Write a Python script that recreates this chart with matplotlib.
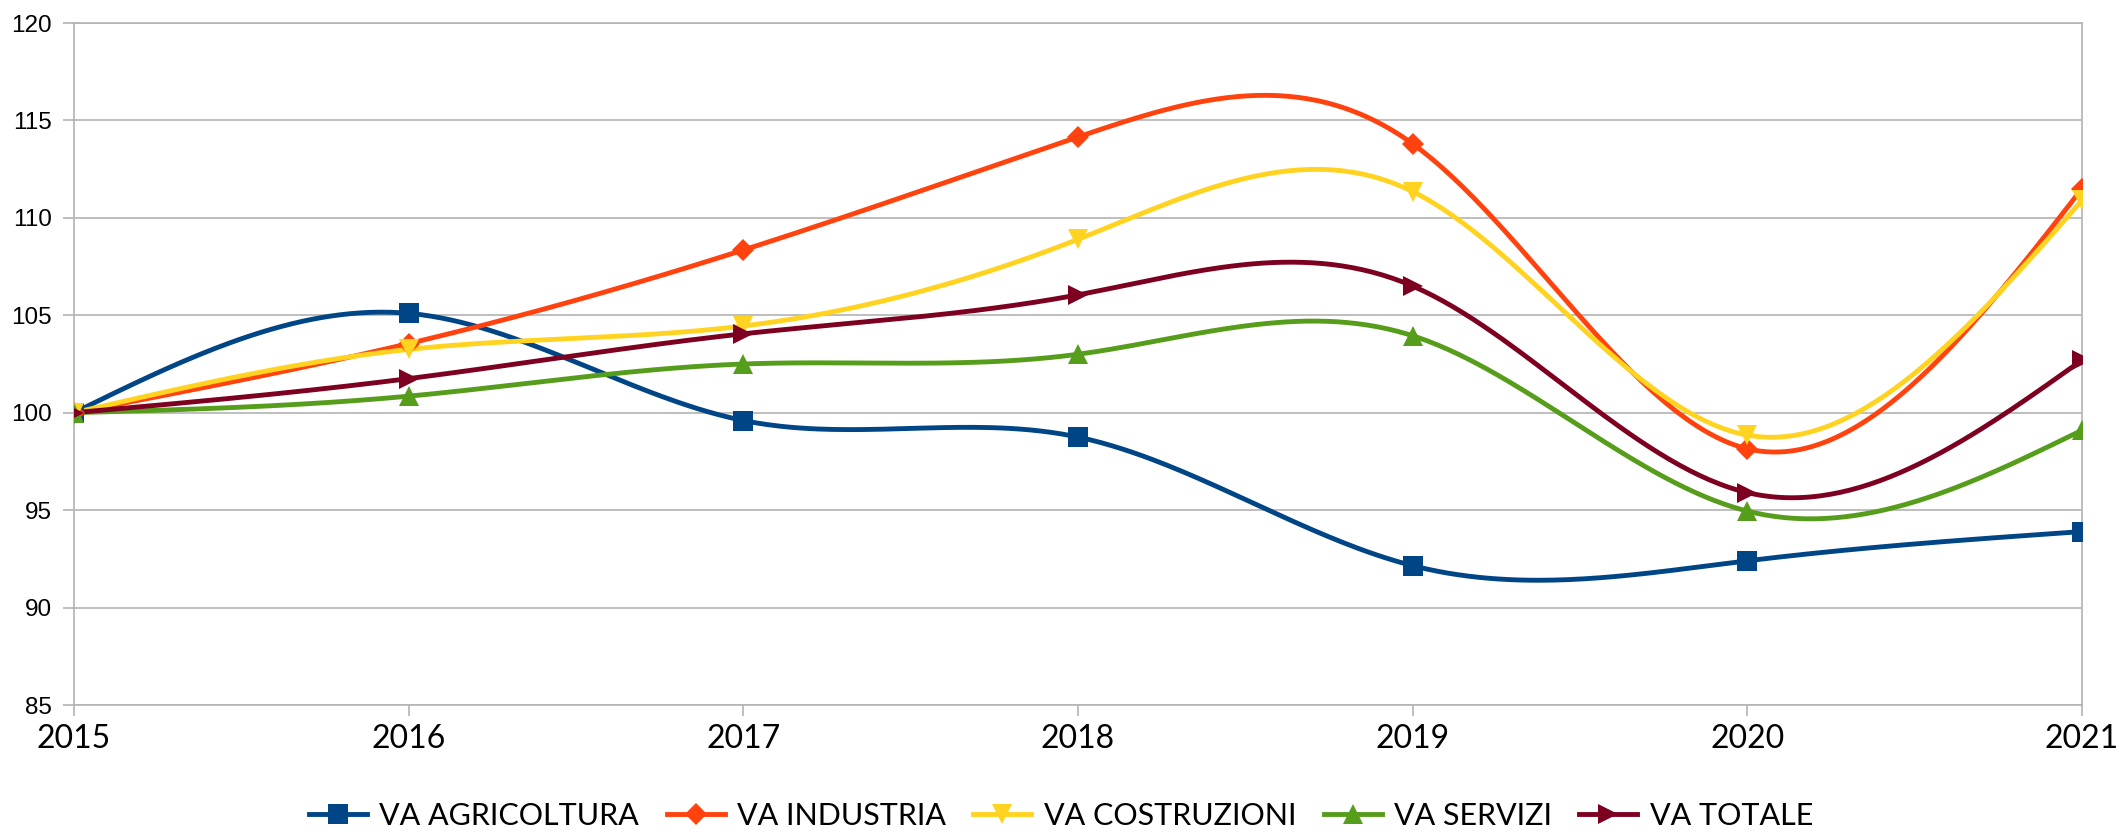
import numpy as np
import matplotlib
matplotlib.use("Agg")
import matplotlib.pyplot as plt
from matplotlib.lines import Line2D

years = [2015, 2016, 2017, 2018, 2019, 2020, 2021]
agricoltura = [100.0, 105.1, 99.6, 98.75, 92.15, 92.4, 93.9]
industria = [100.0, 103.55, 108.35, 114.15, 113.8, 98.15, 111.5]
costruzioni = [100.0, 103.25, 104.45, 108.9, 111.35, 98.85, 110.9]
servizi = [100.0, 100.85, 102.5, 103.0, 103.95, 94.95, 99.1]
totale = [100.0, 101.75, 104.05, 106.05, 106.5, 95.9, 102.7]

labels = ["VA AGRICOLTURA", "VA INDUSTRIA", "VA COSTRUZIONI", "VA SERVIZI", "VA TOTALE"]
series = [agricoltura, industria, costruzioni, servizi, totale]
colors = ["#004586", "#ff420e", "#ffd320", "#579d1c", "#7e0021"]
markers = ["s", "D", "v", "^", ">"]
msizes = [14, 11, 15, 15, 15]

yticks = [85, 90, 95, 100, 105, 110, 115, 120]


def natural_spline(x, y, n=400):
    x = np.asarray(x, float)
    y = np.asarray(y, float)
    m = len(x)
    h = np.diff(x)
    A = np.zeros((m, m))
    b = np.zeros(m)
    A[0, 0] = 1
    A[-1, -1] = 1
    for i in range(1, m - 1):
        A[i, i - 1] = h[i - 1]
        A[i, i] = 2 * (h[i - 1] + h[i])
        A[i, i + 1] = h[i]
        b[i] = 6 * ((y[i + 1] - y[i]) / h[i] - (y[i] - y[i - 1]) / h[i - 1])
    M = np.linalg.solve(A, b)
    xs = np.linspace(x[0], x[-1], n)
    idx = np.clip(np.searchsorted(x, xs) - 1, 0, m - 2)
    x0, x1 = x[idx], x[idx + 1]
    hh = x1 - x0
    t0 = x1 - xs
    t1 = xs - x0
    ys = (M[idx] * t0 ** 3 / (6 * hh) + M[idx + 1] * t1 ** 3 / (6 * hh)
          + (y[idx] / hh - M[idx] * hh / 6) * t0
          + (y[idx + 1] / hh - M[idx + 1] * hh / 6) * t1)
    return xs, ys


fig = plt.figure(figsize=(21.22, 8.34), dpi=100)
ax = fig.add_axes([74 / 2122, 1 - 705 / 834, (2082 - 74) / 2122, (705 - 23) / 834])

for vals, c, mk, ms, lab in zip(series, colors, markers, msizes, labels):
    xs, ys = natural_spline(years, vals)
    ax.plot(xs, ys, color=c, lw=3.5, solid_capstyle="round", zorder=3)
    ax.plot(years, vals, linestyle="none", marker=mk, ms=ms, color=c,
            markeredgewidth=0, zorder=4)

ax.set_xlim(2015, 2021)
ax.set_ylim(85, 120)
ax.set_yticks(yticks)
ax.set_xticks(years)
ax.grid(axis="y", color="#b3b3b3", lw=1.2)
ax.set_axisbelow(True)
for s in ax.spines.values():
    s.set_color("#b3b3b3")
    s.set_linewidth(1.2)
ax.tick_params(axis="both", color="#b3b3b3", length=8, width=1.2)
ax.tick_params(axis="y", labelsize=17.5, pad=8)
ax.tick_params(axis="x", labelsize=23, pad=6)
for t in ax.get_yticklabels():
    t.set_fontfamily("Liberation Sans")
for t in ax.get_xticklabels():
    t.set_fontfamily("Lato")

handles = [Line2D([0], [0], color=c, lw=3.5, marker=mk, ms=ms, markeredgewidth=0)
           for c, mk, ms in zip(colors, markers, msizes)]
fig.legend(handles, labels, loc="center", bbox_to_anchor=(0.5, 0.022), ncol=5,
           frameon=False, prop={"family": "Lato", "size": 22},
           handlelength=1.9, handletextpad=0.4, columnspacing=0.9)

fig.savefig("out.png", dpi=100, facecolor="white")
